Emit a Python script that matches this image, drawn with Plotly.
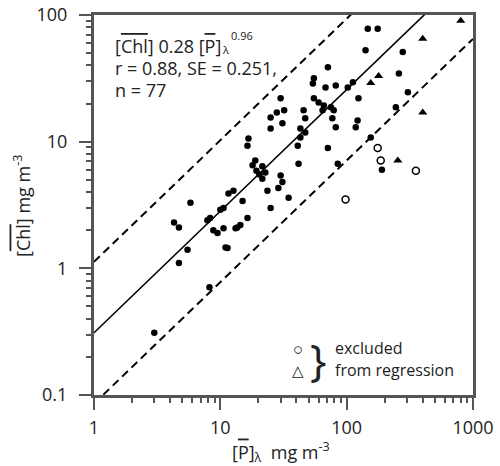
import plotly.graph_objects as go

# regression points (filled dots)
dot_x = [3.0, 8.2, 4.7, 5.5, 11.4, 4.3, 4.7, 5.8, 8.3, 7.9, 8.8, 9.5, 10.6, 13.2, 14.4, 16.4,
         11.0, 10.6, 10.0, 11.6, 12.7, 15.0, 16.4, 16.7, 18.0, 19.3, 20.4, 21.5, 21.5, 18.9,
         22.7, 30.0, 28.8, 23.6, 25.0, 34.7, 31.0, 41.6, 43.0, 41.0, 71.0, 85.0, 28.0, 25.0,
         31.0, 32.0, 30.0, 47.0, 45.6, 55.0, 60.0, 66.0, 75.0, 64.5, 79.0, 77.0, 82.0, 55.0,
         54.0, 68.0, 82.0, 112.0, 71.0, 124.0, 122.0, 118.0, 155.0, 141.0, 147.0, 176.0,
         278.0, 259.0, 305.0, 245.0, 102.0, 43.0, 47.0, 190.0, 13.6, 25.0]
dot_y = [0.31, 0.71, 1.1, 1.4, 1.45, 2.3, 2.1, 3.3, 2.5, 2.4, 2.0, 1.9, 2.07, 2.07, 2.2, 2.5,
         1.46, 3.0, 2.9, 3.9, 4.1, 3.4, 9.3, 10.6, 6.5, 5.9, 5.5, 5.1, 6.4, 7.1,
         5.7, 5.4, 4.3, 4.1, 3.0, 3.6, 4.8, 6.7, 10.8, 9.3, 8.9, 6.7, 17.0, 12.7,
         14.0, 17.7, 22.0, 15.3, 17.7, 22.0, 20.4, 19.3, 18.7, 17.7, 17.7, 15.3, 13.0, 31.6,
         28.8, 26.8, 27.8, 29.4, 38.6, 22.0, 14.7, 13.0, 10.8, 52.6, 78.0, 78.0,
         51.0, 34.6, 24.5, 18.7, 26.8, 12.7, 11.8, 6.0, 2.1, 15.5]

# excluded points
circ_x = [98.0, 353.0, 176.0, 186.0]
circ_y = [3.5, 5.9, 8.9, 7.1]
tri_x = [800.0, 400.0, 179.0, 155.0, 400.0, 254.0]
tri_y = [90.0, 65.0, 33.0, 29.0, 17.0, 7.1]

# regression line [Chl] = A * [P]^B, and band factor
reg_A = 0.31
reg_B = 0.96
band = 3.63
line_x = [1.0, 1000.0]

x_ticks = [1, 10, 100, 1000]
x_ticktext = ["1", "10", "100", "1000"]
y_ticks = [0.1, 1, 10, 100]
y_ticktext = ["0.1", "1", "10", "100"]

FONT = "Open Sans"
TXT = "#222222"
AX = "#555555"

W, H = 500, 466
L, R, T, B = 94, 27, 15, 71
PW, PH = W - L - R, H - T - B
OX, OY = L, T  # absolute position of plot area top-left (body margin removed)

fig = go.Figure()

reg_y = [reg_A * x ** reg_B for x in line_x]
up_y = [y * band for y in reg_y]
lo_y = [y / band for y in reg_y]

fig.add_trace(go.Scatter(x=line_x, y=reg_y, mode="lines",
                         line=dict(color="black", width=1.6), hoverinfo="skip"))
fig.add_trace(go.Scatter(x=line_x, y=up_y, mode="lines",
                         line=dict(color="black", width=2, dash="8px,5px"), hoverinfo="skip"))
fig.add_trace(go.Scatter(x=line_x, y=lo_y, mode="lines",
                         line=dict(color="black", width=2, dash="8px,5px"), hoverinfo="skip"))

fig.add_trace(go.Scatter(x=dot_x, y=dot_y, mode="markers",
                         marker=dict(symbol="circle", size=6.5, color="black")))
fig.add_trace(go.Scatter(x=circ_x, y=circ_y, mode="markers",
                         marker=dict(symbol="circle-open", size=7, color="black",
                                     line=dict(width=1.5))))
fig.add_trace(go.Scatter(x=tri_x, y=tri_y, mode="markers",
                         marker=dict(symbol="triangle-up", size=8, color="black")))


def ol(s):
    return '<span style="text-decoration:overline">' + s + '</span>'


def paper(xp, yp):
    return (xp - OX) / PW, (OY + PH - yp) / PH


texts = [
    (113, 46, "[" + ol("Chl") + "] 0.28 [" + ol("P") + "]", 18, "left", 0),
    (220, 50, "λ", 11, "left", 0),
    (229, 36, "0.96", 11, "left", 0),
    (113, 68, "r = 0.88, SE = 0.251,", 18, "left", 0),
    (113, 90, "n = 77", 18, "left", 0),
    (333, 348, "excluded", 16, "left", 0),
    (333, 370, "from regression", 16, "left", 0),
    (298, 348, "○", 17, "center", 0),
    (298, 370, "△", 15, "center", 0),
    (318, 359, "}", 44, "center", 0),
    (281, 452, "[" + ol("P") + "]<sub>λ</sub>  mg m<sup>-3</sup>", 18, "center", 0),
    (22, 206, "[" + ol("Chl") + "] mg m<sup>-3</sup>", 18, "center", -90),
]

annotations = []
for xp, yp, t, s, anc, ang in texts:
    px_, py_ = paper(xp, yp)
    annotations.append(dict(x=px_, y=py_, xref="paper", yref="paper",
                            text=t, showarrow=False, xanchor=anc, yanchor="middle",
                            textangle=ang,
                            font=dict(family=FONT, size=s, color=TXT)))

fig.update_layout(
    width=W, height=H,
    margin=dict(l=L, r=R, t=T, b=B),
    paper_bgcolor="white", plot_bgcolor="white",
    showlegend=False,
    font=dict(family=FONT, size=18, color=TXT),
    xaxis=dict(type="log", range=[0, 3], tickvals=x_ticks, ticktext=x_ticktext,
               ticks="outside", ticklen=12, tickwidth=2, tickcolor=AX,
               minor=dict(ticks="outside", ticklen=5, tickwidth=2, tickcolor=AX,
                          tickvals=[m * 10 ** d for d in range(3) for m in range(2, 10)]),
               showline=True, linewidth=3, linecolor=AX, mirror=True,
               showgrid=False, zeroline=False, automargin=False,
               ticklabelstandoff=2, ticklabeloverflow="allow",
               tickfont=dict(size=18)),
    yaxis=dict(type="log", range=[-1, 2], tickvals=y_ticks, ticktext=y_ticktext,
               ticks="outside", ticklen=12, tickwidth=2, tickcolor=AX,
               minor=dict(ticks="outside", ticklen=5, tickwidth=2, tickcolor=AX,
                          tickvals=[m * 10 ** d for d in range(-1, 2) for m in range(2, 10)]),
               showline=True, linewidth=3, linecolor=AX, mirror=True,
               showgrid=False, zeroline=False, automargin=False,
               ticklabelstandoff=8, ticklabeloverflow="allow",
               tickfont=dict(size=18)),
    annotations=annotations,
)

fig.write_html("out.html", config={"displayModeBar": False},
               post_script="document.body.style.margin='0';document.body.style.overflow='hidden';")
